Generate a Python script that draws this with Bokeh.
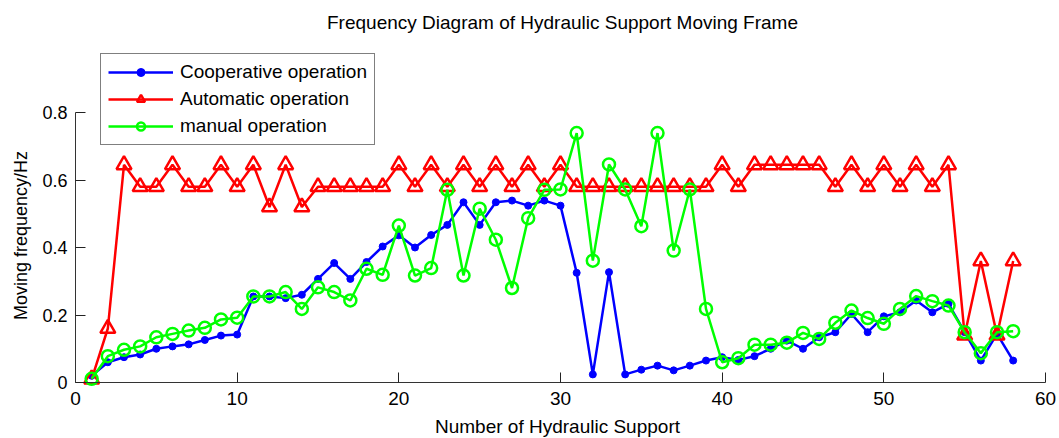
import math
from bokeh.plotting import figure
from bokeh.models import Legend, LegendItem, FixedTicker, Range1d, Label
from bokeh.embed import file_html
from bokeh.resources import INLINE

support = list(range(1, 59))
cooperative = [0.02, 0.06, 0.075, 0.083, 0.10, 0.107, 0.113, 0.126, 0.139, 0.142,
               0.255, 0.255, 0.25, 0.26, 0.307, 0.354, 0.307, 0.357, 0.403, 0.436,
               0.40, 0.437, 0.467, 0.534, 0.467, 0.534, 0.539, 0.524, 0.539, 0.524,
               0.325, 0.024, 0.327, 0.024, 0.038, 0.05, 0.036, 0.05, 0.065, 0.075,
               0.067, 0.078, 0.10, 0.124, 0.10, 0.134, 0.149, 0.203, 0.149, 0.196,
               0.208, 0.243, 0.208, 0.233, 0.149, 0.065, 0.144, 0.065]
automatic = [0.01, 0.16, 0.645, 0.58, 0.58, 0.645, 0.58, 0.58, 0.645, 0.58,
             0.645, 0.52, 0.645, 0.52, 0.58, 0.58, 0.58, 0.58, 0.58, 0.645,
             0.58, 0.645, 0.58, 0.645, 0.58, 0.645, 0.58, 0.645, 0.58, 0.645,
             0.58, 0.58, 0.58, 0.58, 0.58, 0.58, 0.58, 0.58, 0.58, 0.645,
             0.58, 0.645, 0.645, 0.645, 0.645, 0.645, 0.58, 0.645, 0.58, 0.645,
             0.58, 0.645, 0.58, 0.645, 0.14, 0.36, 0.14, 0.36]
manual = [0.011, 0.078, 0.097, 0.107, 0.134, 0.144, 0.154, 0.162, 0.187, 0.192,
          0.255, 0.255, 0.268, 0.218, 0.282, 0.268, 0.243, 0.337, 0.319, 0.465,
          0.317, 0.339, 0.571, 0.317, 0.515, 0.423, 0.28, 0.487, 0.571, 0.572,
          0.739, 0.361, 0.646, 0.572, 0.463, 0.739, 0.391, 0.572, 0.218, 0.06,
          0.072, 0.112, 0.112, 0.118, 0.147, 0.129, 0.177, 0.213, 0.191, 0.174,
          0.218, 0.256, 0.241, 0.228, 0.149, 0.087, 0.149, 0.152]

x_ticks = [0, 10, 20, 30, 40, 50, 60]
y_ticks = [0, 0.2, 0.4, 0.6, 0.8]
y_tick_labels = ["0", "0.2", "0.4", "0.6", "0.8"]
title_text = "Frequency Diagram of Hydraulic Support Moving Frame"
x_label = "Number of Hydraulic Support"
y_label = "Moving frequency/Hz"
series_names = ["Cooperative operation", "Automatic operation", "manual operation"]

X_MIN, X_MAX = 0, 60
Y_MIN, Y_MAX = 0, 0.8

# page geometry (pixels): the plotting frame covers the whole canvas,
# the axes box sits inside it
W, H = 1059, 438
AX_L, AX_R, AX_T, AX_B = 75, 1045, 112, 382
ppx = (AX_R - AX_L) / (X_MAX - X_MIN)
ppy = (AX_B - AX_T) / (Y_MAX - Y_MIN)

FONT = "Liberation Sans"

p = figure(width=W, height=H, output_backend="svg", toolbar_location=None,
           x_range=Range1d(X_MIN - AX_L / ppx, X_MAX + (W - AX_R) / ppx),
           y_range=Range1d(Y_MIN - (H - AX_B) / ppy, Y_MAX + AX_T / ppy),
           min_border_left=0, min_border_right=0, min_border_top=0,
           min_border_bottom=0)
p.outline_line_color = None
p.grid.visible = False
p.background_fill_color = "white"
p.border_fill_color = "white"

for ax in (p.xaxis[0], p.yaxis[0]):
    ax.fixed_location = 0
    ax.axis_line_color = "#333333"
    ax.major_tick_line_color = "#222222"
    ax.major_tick_in = 10
    ax.major_tick_out = 0
    ax.minor_tick_line_color = None
    ax.major_label_text_font = FONT
    ax.major_label_text_color = "black"

p.xaxis.ticker = FixedTicker(ticks=x_ticks)
p.xaxis.bounds = (X_MIN, X_MAX)
p.xaxis.major_label_text_font_size = "19px"
p.xaxis.major_label_standoff = 9

p.yaxis.ticker = FixedTicker(ticks=y_ticks)
p.yaxis.bounds = (Y_MIN, Y_MAX)
p.yaxis.major_label_overrides = {t: s for t, s in zip(y_ticks, y_tick_labels)}
p.yaxis.major_label_text_font_size = "18px"
p.yaxis.major_label_standoff = 8

# title and axis titles (screen units from the canvas bottom-left)
p.add_layout(Label(x=562, y=H - 22, x_units="screen", y_units="screen",
                   text=title_text, text_align="center", text_baseline="middle",
                   text_font=FONT, text_font_size="19px", text_color="black"))
p.add_layout(Label(x=557, y=H - 426, x_units="screen", y_units="screen",
                   text=x_label, text_align="center", text_baseline="middle",
                   text_font=FONT, text_font_size="19px", text_color="black"))
p.add_layout(Label(x=20, y=H - 235, x_units="screen", y_units="screen",
                   text=y_label, text_align="center", text_baseline="middle",
                   angle=math.pi / 2,
                   text_font=FONT, text_font_size="18px", text_color="black"))

BLUE, RED, GREEN = "#0000FF", "#FF0000", "#00FF00"
LW = 2.5

lb = p.line(support, cooperative, line_color=BLUE, line_width=LW)
sb = p.scatter(support, cooperative, marker="circle", size=7,
               fill_color=BLUE, line_color=BLUE)
lr = p.line(support, automatic, line_color=RED, line_width=LW)
sr = p.scatter(support, automatic, marker="triangle", size=15,
               fill_color=None, line_color=RED, line_width=LW)
lg = p.line(support, manual, line_color=GREEN, line_width=LW)
sg = p.scatter(support, manual, marker="circle", size=12,
               fill_color=None, line_color=GREEN, line_width=LW)

legend = Legend(items=[
    LegendItem(label=series_names[0], renderers=[lb, sb]),
    LegendItem(label=series_names[1], renderers=[lr, sr]),
    LegendItem(label=series_names[2], renderers=[lg, sg]),
], location=(100, H - 145))
legend.margin = 0
legend.padding = 7
legend.spacing = 5
legend.glyph_width = 65
legend.glyph_height = 20
legend.label_height = 20
legend.label_standoff = 7
legend.label_text_font = FONT
legend.label_text_font_size = "19px"
legend.label_text_color = "black"
legend.border_line_color = "black"
legend.border_line_width = 1.5
legend.background_fill_color = "white"
legend.background_fill_alpha = 1.0
p.add_layout(legend)

open("out.html", "w").write(file_html(p, INLINE))
